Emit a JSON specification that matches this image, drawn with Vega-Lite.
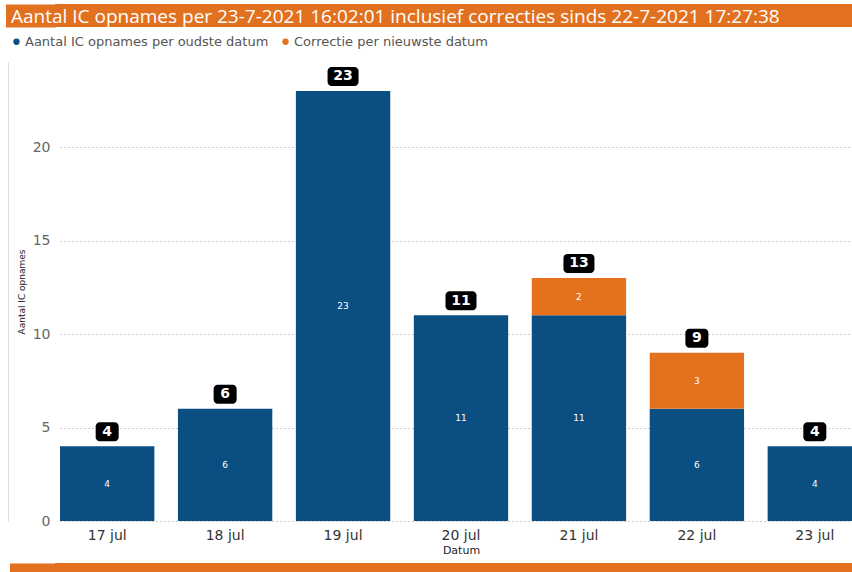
{
  "$schema": "https://vega.github.io/schema/vega-lite/v6.json",
  "padding": {"top": 4, "left": 0, "right": 0, "bottom": 0},
  "background": "white",
  "spacing": 8,
  "config": {"view": {"stroke": null}, "font": "DejaVu Sans"},
  "resolve": {"legend": {"color": "independent"}, "scale": {"color": "independent"}},
  "vconcat": [
    {
      "width": 797,
      "height": 23,
      "view": {"fill": "#E2711F", "stroke": null},
      "data": {"values": [{"v": 1}]},
      "mark": {"type": "point", "opacity": 0},
      "encoding": {
        "y": {"field": "v", "type": "quantitative", "scale": {"domain": [0, 2]},
          "axis": {"title": "Aantal IC opnames per 23-7-2021 16:02:01 inclusief correcties sinds 22-7-2021 17:27:38", "titleAngle": 0, "titleAlign": "left", "titleBaseline": "alphabetic", "titleX": -20, "titleY": 18, "titleColor": "white", "titleFont": "Open Sans", "titleFontSize": 19, "titleFontWeight": "normal", "titleLimit": 0, "labels": false, "ticks": false, "grid": false, "domain": true, "domainColor": "#E2711F", "domainWidth": 50, "offset": 24.5}}
      }
    },
    {
      "width": 797,
      "height": 459,
      "data": {"values": [
        {"Datum": "17 jul", "Reeks": "Aantal IC opnames per oudste datum", "Aantal": 4},
        {"Datum": "18 jul", "Reeks": "Aantal IC opnames per oudste datum", "Aantal": 6},
        {"Datum": "19 jul", "Reeks": "Aantal IC opnames per oudste datum", "Aantal": 23},
        {"Datum": "20 jul", "Reeks": "Aantal IC opnames per oudste datum", "Aantal": 11},
        {"Datum": "21 jul", "Reeks": "Aantal IC opnames per oudste datum", "Aantal": 11},
        {"Datum": "21 jul", "Reeks": "Correctie per nieuwste datum", "Aantal": 2},
        {"Datum": "22 jul", "Reeks": "Aantal IC opnames per oudste datum", "Aantal": 6},
        {"Datum": "22 jul", "Reeks": "Correctie per nieuwste datum", "Aantal": 3},
        {"Datum": "23 jul", "Reeks": "Aantal IC opnames per oudste datum", "Aantal": 4}
      ]},
      "encoding": {
        "x": {
          "field": "Datum", "type": "nominal", "title": "Datum",
          "scale": {"domain": ["17 jul", "18 jul", "19 jul", "20 jul", "21 jul", "22 jul", "23 jul"], "range": [5, 807], "paddingInner": 0.2, "paddingOuter": 0},
          "axis": {"domain": false, "ticks": false, "labelAngle": 0, "labelColor": "#333", "labelFontSize": 14, "labelPadding": 7, "titleFontSize": 11, "titleFontWeight": "normal", "titleColor": "#222", "titlePadding": 2}
        }
      },
      "resolve": {"axis": {"y": "independent"}},
      "layer": [
        {
          "mark": {"type": "bar", "clip": true},
          "encoding": {
            "y": {"field": "Aantal", "type": "quantitative", "stack": "zero",
              "scale": {"domain": [0, 24.55], "nice": false},
              "axis": {"values": [0, 5, 10, 15, 20], "domain": false, "ticks": false, "grid": true, "gridDash": [1, 3], "gridColor": "#999", "labelColor": "#666", "labelFontSize": 14, "labelPadding": 5, "title": "Aantal IC opnames", "titleFontSize": 9, "titleFontWeight": "normal", "titleColor": "#222", "titlePadding": 6}},
            "color": {"field": "Reeks", "type": "nominal",
              "scale": {"domain": ["Aantal IC opnames per oudste datum", "Correctie per nieuwste datum"], "range": ["#0A4E82", "#E3711E"]},
              "legend": {"title": null, "orient": "none", "direction": "horizontal", "legendX": -45, "legendY": -27, "symbolType": "circle", "symbolSize": 40, "labelFontSize": 13, "labelColor": "#555", "labelLimit": 0, "columnPadding": 10, "labelOffset": 2}},
            "order": {"field": "Reeks", "sort": "ascending"}
          }
        },
        {
          "mark": {"type": "text", "color": "white", "fontSize": 9, "baseline": "middle"},
          "encoding": {
            "y": {"field": "Aantal", "type": "quantitative", "stack": "zero", "bandPosition": 0.5,
              "axis": {"orient": "left", "offset": 47, "title": null, "labels": false, "ticks": false, "grid": false, "domain": true, "domainColor": "#DDDDDD", "domainWidth": 1}},
            "detail": {"field": "Reeks"},
            "order": {"field": "Reeks", "sort": "ascending"},
            "text": {"field": "Aantal", "type": "quantitative"}
          }
        },
        {
          "transform": [{"aggregate": [{"op": "sum", "field": "Aantal", "as": "Totaal"}], "groupby": ["Datum"]}],
          "mark": {"type": "bar", "color": "black", "cornerRadius": 4, "yOffset": -5, "y2Offset": -24},
          "encoding": {
            "y": {"field": "Totaal", "type": "quantitative", "axis": null},
            "y2": {"field": "Totaal"},
            "size": {"condition": {"test": "datum.Totaal >= 10", "value": 31}, "value": 23}
          }
        },
        {
          "transform": [{"aggregate": [{"op": "sum", "field": "Aantal", "as": "Totaal"}], "groupby": ["Datum"]}],
          "mark": {"type": "text", "color": "white", "fontSize": 14, "fontWeight": "bold", "baseline": "middle", "yOffset": -14.5},
          "encoding": {
            "y": {"field": "Totaal", "type": "quantitative", "axis": null},
            "text": {"field": "Totaal", "type": "quantitative"}
          }
        }
      ]
    },
    {
      "width": 797,
      "height": 9,
      "view": {"fill": "#E2711F", "stroke": null},
      "data": {"values": [{"v": 1}]},
      "mark": {"type": "point", "opacity": 0},
      "encoding": {
        "y": {"field": "v", "type": "quantitative", "scale": {"domain": [0, 2]}, "axis": {"title": ".", "titleAngle": 0, "titleAlign": "left", "titleBaseline": "alphabetic", "titleX": -32.5, "titleY": 7, "titleOpacity": 0, "titleFontSize": 6, "labels": false, "ticks": false, "grid": false, "domain": true, "domainColor": "#E2711F", "domainWidth": 46, "offset": 22.5}}
      }
    }
  ]
}
